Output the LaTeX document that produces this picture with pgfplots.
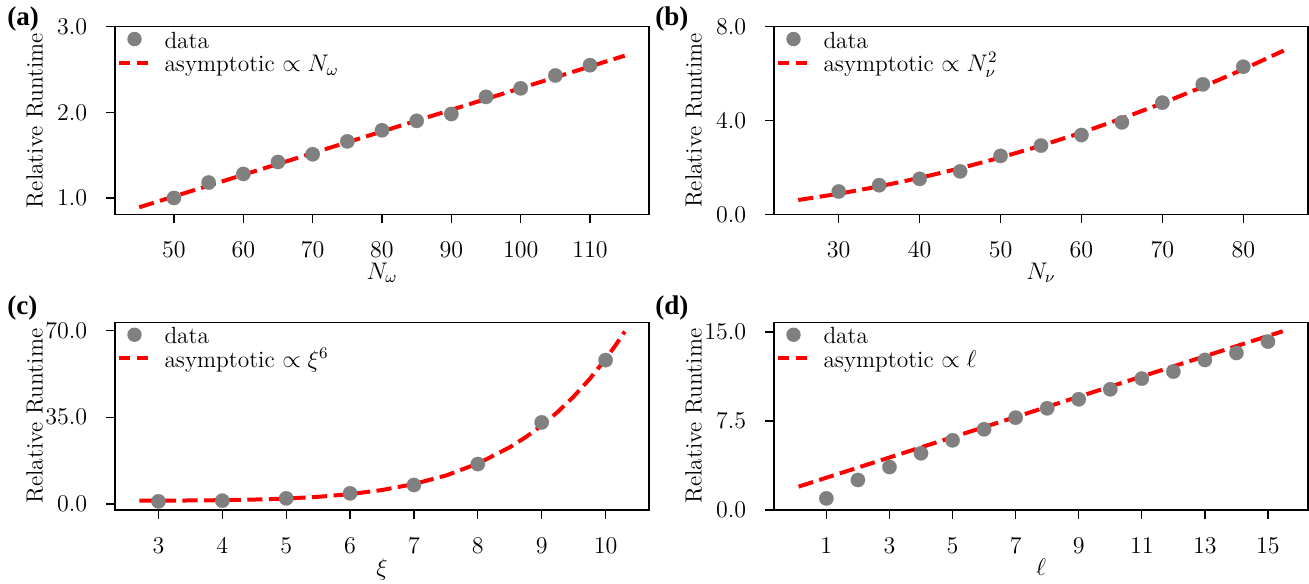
\documentclass[border=0pt]{standalone}
\usepackage{fontspec}
\usepackage{pgfplots}
\pgfplotsset{compat=1.18}
\newfontfamily\tnr{Liberation Serif}
\definecolor{mgray}{RGB}{128,128,128}
\pgfplotsset{
  myaxis/.style={
    scale only axis, width=267pt, height=93.83pt,
    axis line style={line width=0.65pt},
    every tick/.style={line width=0.65pt, black},
    major tick length=4.5pt,
    tick align=outside,
    xtick pos=left, ytick pos=left,
    xticklabel style={anchor=base, yshift=-17pt, inner sep=0pt, font=\fontsize{11.7}{14}\selectfont},
    yticklabel style={anchor=east, xshift=-9.2pt, inner sep=0pt, font=\fontsize{11.7}{14}\selectfont,
      /pgf/number format/.cd, fixed, fixed zerofill, precision=1},
    ylabel={Relative Runtime},
    y label style={at={([xshift=-40.1pt]axis description cs:0,0.5)}, anchor=center, inner sep=0pt, font=\fontsize{11.7}{14}\selectfont},
    x label style={at={([yshift=-32.5pt]axis description cs:0.5,0)}, anchor=base, inner sep=0pt, font=\fontsize{11.7}{14}\selectfont},
    reverse legend,
    legend style={at={([yshift=-2.2pt]axis description cs:0,1)}, anchor=north west, draw=none, fill=none,
      inner sep=0pt, outer sep=0pt, row sep=0.3pt, column sep=0pt,
      cells={anchor=base west},
      nodes={inner sep=0pt, outer sep=0pt, text height=8.5pt, text depth=3pt},
      font=\fontsize{11.7}{14}\selectfont},
  },
  dat/.style={only marks, mark=*, mark size=3.6pt, color=mgray, mark options={solid, fill=mgray, draw=mgray, line width=0.1pt},
    legend image code/.code={\path[draw=none, fill=none] (0pt,0pt) -- (24.75pt,0pt); \fill[mgray, draw=none] (9.75pt,4.5pt) circle[radius=3.6pt];}},
  fit/.style={red, line width=2pt, dash pattern=on 7.6pt off 3.2pt,
    legend image code/.code={\path[draw=none, fill=none] (0pt,0pt) -- (24.75pt,0pt); \draw[red, solid, line width=2pt] (2.2pt,4.5pt) -- (7.7pt,4.5pt) (11pt,4.5pt) -- (16.7pt,4.5pt);}},
}
\begin{document}
\begin{tikzpicture}[font=\fontsize{11.7}{14}\selectfont]
\path[use as bounding box] (0pt,0pt) rectangle (654.5pt,-291.5pt);

% (a)
\begin{axis}[myaxis, at={(57.5pt,-107.15pt)}, anchor=south west,
  xmin=41.5, xmax=118.5, ymin=0.809, ymax=3.0,
  xtick={50,60,...,110}, ytick={1,2,3},
  xlabel={$N_\omega$}]
\addplot[fit] coordinates {(45,0.891) (115,2.661)};
\addlegendentry{asymptotic $\propto N_\omega$}
\addplot[dat] coordinates {(50,1.00) (55,1.18) (60,1.28) (65,1.42) (70,1.51) (75,1.66) (80,1.79) (85,1.90) (90,1.98) (95,2.18) (100,2.28) (105,2.43) (110,2.55)};
\addlegendentry{data}
\end{axis}

% (b)
\begin{axis}[myaxis, at={(387pt,-107.15pt)}, anchor=south west,
  xmin=22, xmax=88, ymin=0, ymax=8,
  xtick={30,40,...,80}, ytick={0,4,8},
  xlabel={$N_\nu$}]
\addplot[fit] coordinates {(25,0.610) (30,0.876) (35,1.189) (40,1.551) (45,1.961) (50,2.420) (55,2.926) (60,3.481) (65,4.084) (70,4.736) (75,5.435) (80,6.183) (85,6.979)};
\addlegendentry{asymptotic $\propto N_\nu^2$}
\addplot[dat] coordinates {(30,0.97) (35,1.24) (40,1.51) (45,1.83) (50,2.49) (55,2.93) (60,3.38) (65,3.92) (70,4.76) (75,5.54) (80,6.29)};
\addlegendentry{data}
\end{axis}

% (c)
\begin{axis}[myaxis, at={(57.5pt,-255pt)}, anchor=south west,
  xmin=2.32, xmax=10.68, ymin=-2.42, ymax=73.22,
  xtick={3,4,...,10}, ytick={0,35,70},
  xlabel={$\xi$}]
\addplot[fit] coordinates {(2.7,1.34) (3,1.36) (3.5,1.42) (4,1.55) (4.5,1.79) (5,2.21) (5.5,2.90) (6,3.98) (6.5,5.63) (7,8.04) (7.5,11.48) (8,16.29) (8.5,22.86) (8.75,26.95) (9,31.67) (9.25,37.09) (9.5,43.29) (9.75,50.37) (10,58.42) (10.15,63.76) (10.3,69.50)};
\addlegendentry{asymptotic $\propto \xi^6$}
\addplot[dat] coordinates {(3,1.07) (4,1.34) (5,2.28) (6,4.30) (7,7.66) (8,16.1) (9,32.9) (10,58.0)};
\addlegendentry{data}
\end{axis}

% (d)
\begin{axis}[myaxis, at={(387pt,-255pt)}, anchor=south west,
  xmin=-0.66, xmax=16.27, ymin=0, ymax=15.81,
  xtick={1,3,...,15}, ytick={0,7.5,15},
  xlabel={$\ell$}]
\addplot[fit] coordinates {(0.12,1.97) (15.47,15.06)};
\addlegendentry{asymptotic $\propto \ell$}
\addplot[dat] coordinates {(1,0.98) (2,2.53) (3,3.62) (4,4.78) (5,5.87) (6,6.80) (7,7.78) (8,8.57) (9,9.33) (10,10.17) (11,11.07) (12,11.66) (13,12.64) (14,13.23) (15,14.19)};
\addlegendentry{data}
\end{axis}

\node[anchor=base west, inner sep=0pt, font=\tnr\bfseries\fontsize{13.5}{16}\selectfont] at (3.5pt,-13pt) {(a)};
\node[anchor=base west, inner sep=0pt, font=\tnr\bfseries\fontsize{13.5}{16}\selectfont] at (327.5pt,-13pt) {(b)};
\node[anchor=base west, inner sep=0pt, font=\tnr\bfseries\fontsize{13.5}{16}\selectfont] at (3.5pt,-157pt) {(c)};
\node[anchor=base west, inner sep=0pt, font=\tnr\bfseries\fontsize{13.5}{16}\selectfont] at (327.5pt,-157pt) {(d)};
\end{tikzpicture}
\end{document}
